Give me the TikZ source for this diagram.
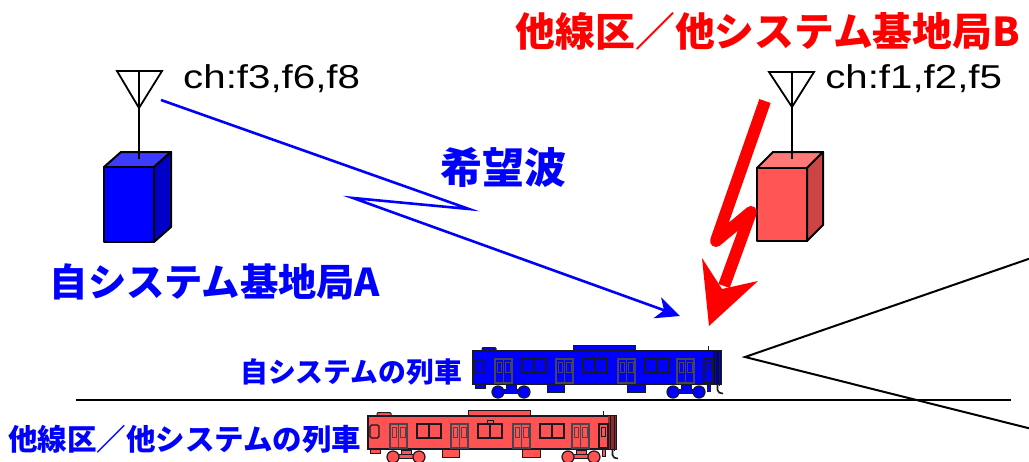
\documentclass[tikz,border=0pt]{standalone}
\usepackage{fontspec}
\setmainfont{Liberation Sans}
\newfontfamily\jp{Noto Sans CJK JP}
\usetikzlibrary{arrows.meta}

\definecolor{sysblue}{RGB}{0,0,255}
\definecolor{boxAfront}{RGB}{0,0,255}
\definecolor{boxAtop}{RGB}{60,60,255}
\definecolor{boxAside}{RGB}{0,0,200}
\definecolor{boxBfront}{RGB}{255,85,85}
\definecolor{boxBtop}{RGB}{255,120,120}
\definecolor{boxBside}{RGB}{205,68,68}
\definecolor{boltred}{RGB}{255,0,0}
\definecolor{redtrain}{RGB}{255,82,82}
\definecolor{tline}{RGB}{25,25,35}
\definecolor{doorline}{RGB}{70,70,80}

\tikzset{
  outline/.style={draw=black,line width=2pt,line join=round},
  mast/.style={draw=black,line width=1.8pt},
  chlabel/.style={anchor=base west,inner sep=0pt,font=\fontsize{33}{36}\selectfont,xscale=1.22},
  jplabel/.style={inner sep=0pt,anchor=center},
  wave/.style={draw=sysblue,line width=2.6pt,line join=miter,
    -{Stealth[length=24pt,width=22pt,inset=7pt]}},
  bolt/.style={draw=boltred,line width=12pt,line cap=butt,line join=round},
  thinline/.style={draw=black,line width=2pt},
  pics/train/.style={code={
    % roof fittings
    \filldraw[fill=#1,draw=tline,line width=1pt,rounded corners=1pt] (9,-3.5) rectangle (23,0.5);
    \filldraw[fill=#1,draw=tline,line width=1pt] (100,-6) rectangle (162,0);
    \draw[tline,line width=1.5pt] (235.5,-5) -- (235.5,0);
    % underbody parts
    \filldraw[fill=#1,draw=tline,line width=1pt] (2,32) rectangle (12,37);
    \filldraw[fill=#1,draw=tline,line width=1pt] (74,32) rectangle (91,41);
    \filldraw[fill=#1,draw=tline,line width=1pt] (154,32) rectangle (172,41);
    \filldraw[fill=#1,draw=tline,line width=1pt] (234,32) rectangle (237,40);
    \draw[tline,line width=1.6pt] (244.5,33) -- (244.5,39) to[out=-90,in=180] (250,42.5);
    % bogies
    \foreach \bx in {25,200}{
      \filldraw[fill=#1,draw=tline,line width=1pt] (\bx+1,38.5) rectangle (\bx+25,42);
      \filldraw[fill=#1,draw=tline,line width=1pt] (\bx+8,34) rectangle (\bx+18,38.5);
      \filldraw[fill=#1,draw=tline,line width=1.2pt] (\bx,41) circle (6);
      \filldraw[fill=#1,draw=tline,line width=1.2pt] (\bx+26,41) circle (6);
    }
    % car body
    \filldraw[fill=#1,draw=tline,line width=1.5pt] (0,0) rectangle (248,33);
    \fill[#1!55!black] (240,0) rectangle (248,33);
    \draw[tline,line width=1pt] (242.5,-0.5) -- (242.5,34) (246,-1) -- (246,35);
    % end windows and end door
    \draw[tline,line width=1.2pt,rounded corners=1.5pt] (2,9) rectangle (11,22);
    \draw[tline,line width=1.2pt] (231,8) rectangle (240,32);
    \draw[tline,line width=1pt] (233.5,11) rectangle (237.5,20);
    % small box above the middle windows
    \filldraw[fill=#1,draw=tline,line width=1pt] (119,4) rectangle (125,8);
    % paired windows
    \foreach \wx in {49,110,172}{
      \draw[tline,line width=1.3pt] (\wx,8) rectangle ++(24,14);
      \draw[tline,line width=1.3pt] (\wx+12,8) -- (\wx+12,22);
    }
    % double doors
    \foreach \dx in {22,83,145,204}{
      \draw[doorline,line width=1.2pt] (\dx,8) rectangle ++(17,24);
      \draw[doorline,line width=1.2pt] (\dx+8.5,8) -- (\dx+8.5,32);
      \draw[doorline,line width=1pt] (\dx+2,11) rectangle ++(4.5,10);
      \draw[doorline,line width=1pt] (\dx+10.5,11) rectangle ++(4.5,10);
    }
  }}
}

\begin{document}
\begin{tikzpicture}[x=1pt,y=-1pt]
\useasboundingbox (0,0) rectangle (1029,461);

% ---- base station A (own system) ----
\filldraw[outline,fill=boxAtop]  (104,167) -- (121,152) -- (171,152) -- (154,167) -- cycle;
\filldraw[outline,fill=boxAside] (154,167) -- (171,152) -- (171,227) -- (154,242) -- cycle;
\filldraw[outline,fill=boxAfront] (104,167) rectangle (154,242);
\draw[mast] (117,71) -- (162,71) -- (139,108) -- cycle;
\draw[mast] (139,71) -- (139,159);
\coordinate (antA) at (161,100);
\node[chlabel] (chA) at (183,88) {ch:f3,f6,f8};

% ---- base station B (other line / other system) ----
\filldraw[outline,fill=boxBtop]  (757,168) -- (773,152) -- (823,152) -- (807,168) -- cycle;
\filldraw[outline,fill=boxBside] (807,168) -- (823,152) -- (823,225) -- (807,241) -- cycle;
\filldraw[outline,fill=boxBfront] (757,168) rectangle (807,241);
\draw[mast] (769,72) -- (814,72) -- (792,107) -- cycle;
\draw[mast] (792,72) -- (792,159);
\node[chlabel] (chB) at (825,88) {ch:f1,f2,f5};

% ---- labels ----
\node[jplabel,text=boltred] (titleB) at (768,31)
  {\jp\bfseries\fontsize{39.8}{41}\selectfont 他線区／他システム基地局B};
\node[jplabel,text=sysblue] (wanted) at (503,167)
  {\jp\bfseries\fontsize{42}{44}\selectfont 希望波};
\node[jplabel,text=sysblue] (stationA) at (215,282)
  {\jp\bfseries\fontsize{38.3}{40}\selectfont 自システム基地局A};
\node[jplabel,text=sysblue,anchor=east] (ownTrain) at (462,372)
  {\jp\bfseries\fontsize{27.8}{30}\selectfont 自システムの列車};
\node[jplabel,text=sysblue,anchor=west] (otherTrain) at (8,439)
  {\jp\bfseries\fontsize{29.5}{31}\selectfont 他線区／他システムの列車};

% ---- wanted signal path ----
\coordinate (waveR) at (469,209);
\coordinate (waveL) at (353,198);
\coordinate (rxPoint) at (680,316);
\draw[wave] (antA) -- (waveR) -- (waveL) -- (rxPoint);

% ---- interference bolt ----
\coordinate (boltTop) at (765,101);
\coordinate (boltLow) at (716,241);
\coordinate (boltKnee) at (751,212);
\coordinate (boltEnd) at (724,286);
\draw[bolt] (boltTop) -- (boltLow) -- (boltKnee) -- (boltEnd);
\coordinate (boltTip) at (709,326);
\fill[boltred] (boltTip) -- (702,258) -- (722,289) -- (758,281) -- cycle;

% ---- track and trains ----
\coordinate (trackW) at (76,400);
\coordinate (trackE) at (1011,400);
\draw[thinline] (trackW) -- (trackE);
\pic (ownCar) at (473,351) {train=sysblue};
\pic (otherCar) at (368,416) {train=redtrain};

% ---- coverage wedge ----
\begin{scope}
  \clip (0,0) rectangle (1029,461);
  \coordinate (wedgeApex) at (745,357);
  \coordinate (wedgeUp) at (1040,255);
  \coordinate (wedgeDown) at (1040,431);
  \draw[thinline,line join=miter] (wedgeUp) -- (wedgeApex) -- (wedgeDown);
\end{scope}
\end{tikzpicture}
\end{document}
